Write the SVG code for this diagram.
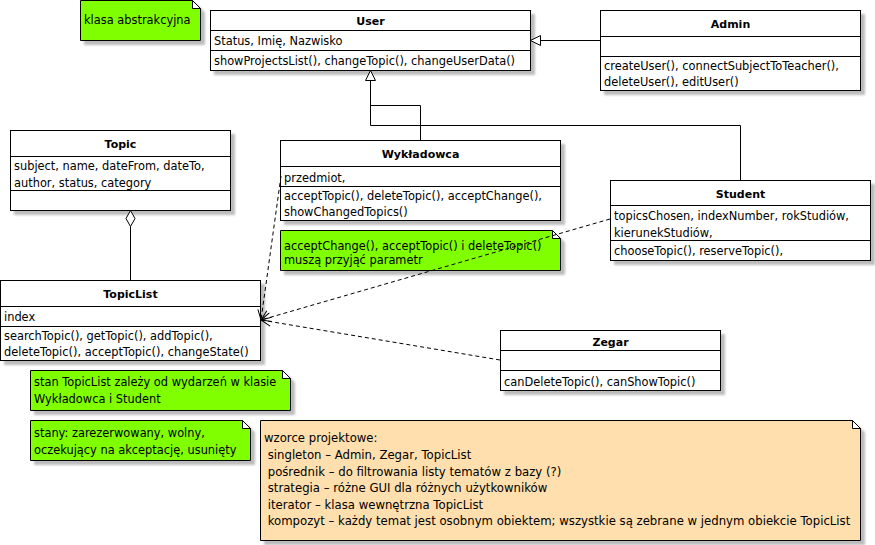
<svg xmlns="http://www.w3.org/2000/svg" width="875" height="545" viewBox="0 0 875 545">
<defs>
<filter id="sh" x="-5%" y="-5%" width="115%" height="125%">
<feDropShadow dx="4" dy="4" stdDeviation="1.2" flood-color="#7a7a7a" flood-opacity="0.5"/>
</filter>
<marker id="open" markerUnits="userSpaceOnUse" markerWidth="12" markerHeight="12" refX="11" refY="6" orient="auto">
<path d="M1,1.5 L11,6 L1,10.5" fill="none" stroke="#000" stroke-width="1"/>
</marker>
</defs>
<style>
.box{fill:#fff;stroke:#000;stroke-width:1;filter:url(#sh)}
.div{stroke:#000;stroke-width:1}
.note{fill:#80ff00;stroke:#000;stroke-width:1;filter:url(#sh)}
.pnote{fill:#ffdfae;stroke:#000;stroke-width:1;filter:url(#sh)}
.fold{fill:#fff;stroke:#000;stroke-width:1}
.t{font-family:"DejaVu Sans","Liberation Sans",sans-serif;font-size:11.4px;fill:#000}
.p{font-family:"DejaVu Sans","Liberation Sans",sans-serif;font-size:11.7px;fill:#000}
.b{font-family:"DejaVu Sans","Liberation Sans",sans-serif;font-size:11px;font-weight:bold;fill:#000;text-anchor:middle}
.ln{fill:none;stroke:#000;stroke-width:1}
.dash{fill:none;stroke:#000;stroke-width:1;stroke-dasharray:4,3}
.head{fill:#fff;stroke:#000;stroke-width:1}
</style>
<rect width="875" height="545" fill="#fff"/>

<g id="note-abstract">
<path class="note" d="M80.5,0.5 H192.5 L200.5,8.5 V40.5 H80.5 Z"/>
<path class="fold" d="M192.5,0.5 V8.5 H200.5 Z"/>
<text class="t" x="84" y="24">klasa abstrakcyjna</text>
</g>

<g id="User">
<rect class="box" x="210.5" y="10.5" width="320" height="60"/>
<line class="div" x1="210.5" y1="30.5" x2="530.5" y2="30.5"/>
<line class="div" x1="210.5" y1="50.5" x2="530.5" y2="50.5"/>
<text class="b" x="370.5" y="25">User</text>
<text class="t" x="214" y="45">Status, Imię, Nazwisko</text>
<text class="t" x="214" y="65">showProjectsList(), changeTopic(), changeUserData()</text>
</g>

<g id="Admin">
<rect class="box" x="600.5" y="10.5" width="260" height="80"/>
<line class="div" x1="600.5" y1="36.5" x2="860.5" y2="36.5"/>
<line class="div" x1="600.5" y1="56.5" x2="860.5" y2="56.5"/>
<text class="b" x="730.5" y="28">Admin</text>
<text class="t" x="604" y="70">createUser(), connectSubjectToTeacher(),</text>
<text class="t" x="604" y="86">deleteUser(), editUser()</text>
</g>

<g id="Topic">
<rect class="box" x="10.5" y="130.5" width="220" height="80"/>
<line class="div" x1="10.5" y1="156.5" x2="230.5" y2="156.5"/>
<line class="div" x1="10.5" y1="190.5" x2="230.5" y2="190.5"/>
<text class="b" x="120.5" y="148">Topic</text>
<text class="t" x="14" y="170">subject, name, dateFrom, dateTo,</text>
<text class="t" x="14" y="186.5">author, status, category</text>
</g>

<g id="Wykladowca">
<rect class="box" x="280.5" y="140.5" width="280" height="80"/>
<line class="div" x1="280.5" y1="166.5" x2="560.5" y2="166.5"/>
<line class="div" x1="280.5" y1="186.5" x2="560.5" y2="186.5"/>
<text class="b" x="420.5" y="158">Wykładowca</text>
<text class="t" x="284" y="182">przedmiot,</text>
<text class="t" x="284" y="200">acceptTopic(), deleteTopic(), acceptChange(),</text>
<text class="t" x="284" y="216">showChangedTopics()</text>
</g>

<g id="note-params">
<path class="note" d="M280.5,230.5 H552.5 L560.5,238.5 V270.5 H280.5 Z"/>
<path class="fold" d="M552.5,230.5 V238.5 H560.5 Z"/>
<text class="t" x="284" y="249.5">acceptChange(), acceptTopic() i deleteTopic()</text>
<text class="t" x="284" y="264">muszą przyjąć parametr</text>
</g>

<g id="Student">
<rect class="box" x="610.5" y="180.5" width="260" height="80"/>
<line class="div" x1="610.5" y1="205.5" x2="870.5" y2="205.5"/>
<line class="div" x1="610.5" y1="240.5" x2="870.5" y2="240.5"/>
<text class="b" x="740.5" y="198">Student</text>
<text class="t" x="614" y="220">topicsChosen, indexNumber, rokStudiów,</text>
<text class="t" x="614" y="236.5">kierunekStudiów,</text>
<text class="t" x="614" y="255">chooseTopic(), reserveTopic(),</text>
</g>

<g id="TopicList">
<rect class="box" x="0.5" y="280.5" width="260" height="80"/>
<line class="div" x1="0.5" y1="306.5" x2="260.5" y2="306.5"/>
<line class="div" x1="0.5" y1="326.5" x2="260.5" y2="326.5"/>
<text class="b" x="130.5" y="298">TopicList</text>
<text class="t" x="4" y="321">index</text>
<text class="t" x="4" y="340">searchTopic(), getTopic(), addTopic(),</text>
<text class="t" x="4" y="356">deleteTopic(), acceptTopic(), changeState()</text>
</g>

<g id="Zegar">
<rect class="box" x="500.5" y="330.5" width="220" height="60"/>
<line class="div" x1="500.5" y1="350.5" x2="720.5" y2="350.5"/>
<line class="div" x1="500.5" y1="370.5" x2="720.5" y2="370.5"/>
<text class="b" x="610.5" y="345.5">Zegar</text>
<text class="t" x="504" y="386">canDeleteTopic(), canShowTopic()</text>
</g>

<g id="note-state">
<path class="note" d="M30.5,370.5 H282.5 L290.5,378.5 V410.5 H30.5 Z"/>
<path class="fold" d="M282.5,370.5 V378.5 H290.5 Z"/>
<text class="t" x="34" y="386">stan TopicList zależy od wydarzeń w klasie</text>
<text class="t" x="34" y="402.5">Wykładowca i Student</text>
</g>

<g id="note-states">
<path class="note" d="M30.5,420.5 H242.5 L250.5,428.5 V460.5 H30.5 Z"/>
<path class="fold" d="M242.5,420.5 V428.5 H250.5 Z"/>
<text class="t" x="34" y="437">stany: zarezerwowany, wolny,</text>
<text class="t" x="34" y="453.5">oczekujący na akceptację, usunięty</text>
</g>

<g id="note-patterns">
<path class="pnote" d="M260.5,420.5 H852.5 L860.5,428.5 V540.5 H260.5 Z"/>
<path class="fold" d="M852.5,420.5 V428.5 H860.5 Z"/>
<text class="p" x="264" y="442">wzorce projektowe:</text>
<text class="p" x="264" y="459" xml:space="preserve"> singleton – Admin, Zegar, TopicList</text>
<text class="p" x="264" y="475.5" xml:space="preserve"> pośrednik – do filtrowania listy tematów z bazy (?)</text>
<text class="p" x="264" y="492" xml:space="preserve"> strategia – różne GUI dla różnych użytkowników</text>
<text class="p" x="264" y="508.5" xml:space="preserve"> iterator – klasa wewnętrzna TopicList</text>
<text class="p" x="264" y="525" xml:space="preserve"> kompozyt – każdy temat jest osobnym obiektem; wszystkie są zebrane w jednym obiekcie TopicList</text>
</g>

<g id="connectors">
<path class="ln" d="M600.5,40.5 H540.5"/>
<path class="head" d="M530.5,40.5 L540.5,35.5 L540.5,45.5 Z"/>
<path class="ln" d="M420.5,140.5 V105.5 H370.5 V80.5"/>
<path class="ln" d="M740.5,180.5 V125.5 H370.5 V80.5"/>
<path class="head" d="M370.5,70.5 L365.5,80.5 L375.5,80.5 Z"/>
<path class="head" d="M130.5,210.5 L135,218.5 L130.5,226.5 L126,218.5 Z"/>
<path class="ln" d="M130.5,226.5 V280.5"/>
<path class="dash" d="M281,176 L261,320" marker-end="url(#open)"/>
<path class="dash" d="M610,219 L261,320" marker-end="url(#open)"/>
<path class="dash" d="M500,360 L261,320" marker-end="url(#open)"/>
</g>
</svg>
